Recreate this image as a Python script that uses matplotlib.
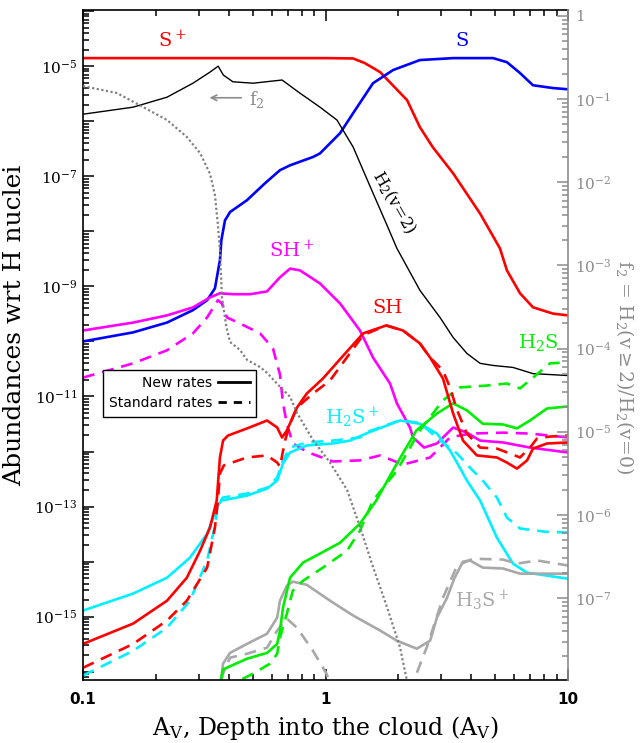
import numpy as np
import matplotlib
matplotlib.use('Agg')
import matplotlib.pyplot as plt
from matplotlib.lines import Line2D
from matplotlib.ticker import LogLocator, FuncFormatter, NullFormatter

plt.rcParams['font.family'] = 'DejaVu Serif'
plt.rcParams['mathtext.fontset'] = 'dejavuserif'

"""
Abundances (wrt H nuclei) vs A_V, read off the figure
"""
# S+
av_sp = [0.1, 0.5, 1.0, 1.30, 1.45, 1.68, 2.17, 2.45, 2.77, 3.36, 4.34, 5.24,
         5.60, 6.34, 7.17, 8.67, 10]
sp = [1.4e-5, 1.4e-5, 1.4e-5, 1.38e-5, 1.14e-5, 7.8e-6, 2.41e-6, 7.8e-7,
      3.37e-7, 1.13e-7, 2.1e-8, 4.9e-9, 1.95e-9, 7.5e-10, 4.17e-10, 3.2e-10,
      2.97e-10]

# S
av_s = [0.1, 0.161, 0.222, 0.284, 0.325, 0.350, 0.367, 0.372, 0.385, 0.404,
        0.474, 0.563, 0.649, 0.714, 0.888, 0.949, 1.148, 1.30, 1.57, 1.90,
        2.45, 3.36, 4.91, 5.60, 6.34, 7.17, 8.67, 10]
s = [1.0e-10, 1.46e-10, 2.2e-10, 3.7e-10, 5.6e-10, 9.2e-10, 3.0e-9, 6.9e-9,
     1.58e-8, 2.24e-8, 3.66e-8, 7.46e-8, 1.29e-7, 1.58e-7, 2.24e-7, 2.6e-7,
     6.05e-7, 1.4e-6, 4.9e-6, 8.5e-6, 1.29e-5, 1.4e-5, 1.4e-5, 1.18e-5,
     7.5e-6, 4.5e-6, 4.0e-6, 3.8e-6]

# H2(v=2)
av_h2 = [0.1, 0.161, 0.222, 0.284, 0.334, 0.361, 0.379, 0.415, 0.502, 0.662,
         0.785, 0.949, 1.115, 1.30, 1.526, 1.793, 1.97, 2.45, 2.97, 3.36,
         3.83, 4.34, 4.91, 5.93, 7.17, 10]
h2v2 = [1.34e-6, 1.8e-6, 2.73e-6, 4.9e-6, 7.8e-6, 1.0e-5, 6.9e-6, 5.2e-6,
        4.9e-6, 5.6e-6, 3.23e-6, 1.8e-6, 1.05e-6, 3.4e-7, 6.6e-8, 1.29e-8,
        4.9e-9, 8.5e-10, 2.7e-10, 1.18e-10, 6.05e-11, 4.0e-11, 3.66e-11,
        3.37e-11, 2.6e-11, 2.4e-11]

# f2 = H2(v>=2)/H2(v=0)  (right axis)
av_f2 = [0.1, 0.138, 0.177, 0.222, 0.268, 0.304, 0.334, 0.350, 0.360, 0.367,
         0.374, 0.390, 0.404, 0.444, 0.475, 0.537, 0.574, 0.649, 0.714, 0.763,
         0.888, 1.044, 1.227, 1.387, 1.57, 1.793, 2.028, 2.17, 2.29]
f2 = [0.143, 0.118, 0.080, 0.056, 0.035, 0.0224, 0.0126, 7.0e-3, 3.06e-3,
      1.53e-3, 4.17e-4, 1.83e-4, 1.2e-4, 9.6e-5, 7.3e-5, 6.0e-5, 5.1e-5,
      3.47e-5, 2.63e-5, 1.68e-5, 7.95e-6, 4.26e-6, 2.0e-6, 7.2e-7, 2.37e-7,
      7.8e-8, 2.57e-8, 1.0e-8, 6e-9]

# SH+
av_shp = [0.1, 0.161, 0.222, 0.284, 0.334, 0.367, 0.415, 0.488, 0.574, 0.649,
          0.714, 0.785, 0.949, 1.148, 1.387, 1.57, 1.845, 1.97, 2.23, 2.295,
          2.55, 2.88, 3.36, 3.83, 4.34, 5.40, 6.97, 10]
shp = [1.58e-10, 2.2e-10, 2.97e-10, 4.15e-10, 6.3e-10, 7.5e-10, 7.2e-10,
       7.2e-10, 8.1e-10, 1.46e-9, 2.1e-9, 1.95e-9, 1.13e-9, 4.9e-10, 1.58e-10,
       5.1e-11, 1.72e-11, 7.5e-12, 2.73e-12, 1.8e-12, 1.18e-12, 1.4e-12,
       2.73e-12, 2.2e-12, 1.58e-12, 1.46e-12, 1.18e-12, 9.6e-13]
av_shp_d = [0.1, 0.161, 0.222, 0.284, 0.325, 0.360, 0.374, 0.392, 0.444,
            0.537, 0.607, 0.649, 0.668, 0.693, 0.733, 0.85, 1.074, 1.387,
            1.68, 2.087, 2.70, 3.26, 3.94, 5.40, 6.97, 10]
shp_d = [2.2e-11, 4.0e-11, 6.9e-11, 1.4e-10, 2.73e-10, 5.6e-10, 4.9e-10,
         2.73e-10, 2.12e-10, 1.4e-10, 7.5e-11, 2.5e-11, 7.5e-12, 3.2e-12,
         1.4e-12, 9.6e-13, 6.6e-13, 6.9e-13, 8.5e-13, 5.8e-13, 7.8e-13,
         1.8e-12, 2.12e-12, 2.2e-12, 2.12e-12, 1.8e-12]

# SH
av_sh = [0.1, 0.161, 0.222, 0.268, 0.304, 0.334, 0.356, 0.367, 0.378, 0.396,
         0.474, 0.574, 0.632, 0.662, 0.693, 0.763, 0.837, 0.976, 1.16, 1.43,
         1.78, 2.087, 2.45, 2.70, 3.05, 3.36, 3.69, 4.21, 5.09, 5.60, 6.16,
         6.78, 7.17, 8.19, 10]
sh = [3.2e-16, 7.5e-16, 1.95e-15, 5.1e-15, 1.58e-14, 4.17e-14, 1.29e-13,
      7.8e-13, 1.58e-12, 1.95e-12, 2.62e-12, 3.66e-12, 2.73e-12, 1.8e-12,
      2.41e-12, 6.3e-12, 1.13e-11, 2.12e-11, 5.0e-11, 1.4e-10, 1.95e-10,
      1.58e-10, 9.2e-11, 5.1e-11, 2.12e-11, 4.9e-12, 1.58e-12, 8.5e-13,
      7.8e-13, 6.3e-13, 4.9e-13, 6.9e-13, 1.13e-12, 1.4e-12, 1.46e-12]
av_sh_d = [0.1, 0.161, 0.222, 0.268, 0.325, 0.350, 0.360, 0.367, 0.381,
           0.474, 0.574, 0.632, 0.649, 0.681, 0.714, 0.763, 0.888, 1.044,
           1.43, 1.78, 2.087, 2.45, 2.70, 3.05, 3.26, 3.49, 3.83, 4.34, 5.09,
           5.77, 6.34, 6.97, 7.45, 8.43, 10]
sh_d = [1.18e-16, 3.2e-16, 8.5e-16, 1.95e-15, 7.8e-15, 4.17e-14, 1.29e-13,
        4.0e-13, 5.6e-13, 7.8e-13, 8.5e-13, 6.3e-13, 5.3e-13, 1.58e-12,
        3.2e-12, 6.3e-12, 1.13e-11, 1.95e-11, 1.3e-10, 1.95e-10, 1.58e-10,
        9.2e-11, 5.1e-11, 2.97e-11, 1.46e-11, 5.6e-12, 2.12e-12, 1.18e-12,
        1.13e-12, 9.2e-13, 7.8e-13, 1.18e-12, 1.72e-12, 1.87e-12, 1.95e-12]

# H2S+
av_h2sp = [0.1, 0.161, 0.222, 0.276, 0.325, 0.350, 0.364, 0.374, 0.474,
           0.574, 0.632, 0.668, 0.714, 0.837, 1.074, 1.262, 1.50, 2.03, 2.45,
           2.88, 3.26, 3.58, 3.83, 4.34, 5.09, 5.93, 6.78, 10]
h2sp = [1.29e-15, 2.63e-15, 5.1e-15, 1.18e-14, 3.2e-14, 7.8e-14, 1.13e-13,
        1.29e-13, 1.58e-13, 2.12e-13, 2.97e-13, 6.05e-13, 9.6e-13, 1.29e-12,
        1.4e-12, 1.58e-12, 2.2e-12, 3.66e-12, 3.2e-12, 2.12e-12, 1.05e-12,
        5.1e-13, 2.97e-13, 1.29e-13, 2.73e-14, 9.2e-15, 6.3e-15, 4.9e-15]
av_h2sp_d = [0.1, 0.161, 0.222, 0.276, 0.325, 0.350, 0.360, 0.378, 0.474,
             0.574, 0.632, 0.668, 0.714, 0.837, 1.074, 1.387, 1.50, 2.03,
             2.45, 2.97, 3.49, 3.94, 4.45, 5.09, 5.60, 6.34, 8.04, 10]
h2sp_d = [8.5e-17, 2.4e-16, 6.3e-16, 1.95e-15, 1.05e-14, 4.5e-14, 1.13e-13,
          1.46e-13, 1.72e-13, 2.2e-13, 3.37e-13, 6.9e-13, 1.18e-12, 1.46e-12,
          1.58e-12, 1.8e-12, 2.3e-12, 3.7e-12, 3.3e-12, 1.58e-12, 9.2e-13,
          5.1e-13, 2.97e-13, 1.46e-13, 6.3e-14, 4.0e-14, 3.5e-14, 3.37e-14]

# H2S
av_h2s = [0.370, 0.378, 0.474, 0.574, 0.632, 0.649, 0.668, 0.714, 0.808,
          0.949, 1.148, 1.387, 1.62, 1.97, 2.37, 2.88, 3.36, 3.83, 4.45, 5.40,
          6.16, 6.97, 8.19, 10]
h2s = [7e-17, 1.1e-16, 1.72e-16, 2.2e-16, 3.2e-16, 5.6e-16, 1.46e-15,
       5.1e-15, 9.6e-15, 1.4e-14, 2.2e-14, 4.9e-14, 1.29e-13, 6.05e-13,
       2.41e-12, 4.9e-12, 7.5e-12, 5.6e-12, 3.2e-12, 3.1e-12, 2.63e-12,
       3.66e-12, 6.05e-12, 6.6e-12]
av_h2s_d = [0.41, 0.423, 0.502, 0.590, 0.632, 0.649, 0.693, 0.733, 0.808,
            0.976, 1.227, 1.387, 1.57, 1.97, 2.45, 3.05, 3.58, 4.63, 5.60,
            6.34, 7.17, 8.43, 10]
h2s_d = [4e-17, 6.3e-17, 9.2e-17, 1.4e-16, 2.12e-16, 4.15e-16, 1.13e-15,
         2.97e-15, 4.5e-15, 7.8e-15, 1.58e-14, 3.66e-14, 1.29e-13, 4.5e-13,
         2.41e-12, 8.5e-12, 1.46e-11, 1.58e-11, 1.72e-11, 1.4e-11, 2.2e-11,
         4.0e-11, 4.15e-11]

# H3S+
av_h3sp = [0.371, 0.378, 0.404, 0.474, 0.574, 0.632, 0.649, 0.693, 0.733,
           0.837, 1.044, 1.30, 1.68, 1.97, 2.38, 2.70, 2.88, 3.17, 3.40, 3.69,
           3.94, 4.45, 5.40, 6.34, 10]
h3sp = [6.9e-17, 1.4e-16, 2.2e-16, 3.2e-16, 4.9e-16, 9.6e-16, 1.95e-15,
        3.66e-15, 4.33e-15, 3.8e-15, 1.95e-15, 1.05e-15, 5.6e-16, 3.66e-16,
        2.62e-16, 3.66e-16, 9.6e-16, 2.2e-15, 5.0e-15, 1.0e-14, 1.05e-14,
        7.8e-15, 7.5e-15, 6.05e-15, 6.05e-15]
av_h3sp_d = [0.372, 0.378, 0.404, 0.474, 0.574, 0.632, 0.693, 0.763, 0.888,
             1.01, 1.1, 2.2, 2.295, 2.63, 3.05, 3.49, 4.06, 5.40, 6.16, 7.45,
             10]
h3sp_d = [6.9e-17, 9.2e-17, 1.8e-16, 2.12e-16, 2.73e-16, 5.6e-16, 9.2e-16,
          6.3e-16, 2.4e-16, 9.2e-17, 3e-17, 3e-17, 6.3e-17, 2.97e-16, 2.2e-15,
          8.5e-15, 1.13e-14, 1.09e-14, 9.2e-15, 1.05e-14, 8.5e-15]

"""
Plot
"""
fig = plt.figure(figsize=(6.43, 7.43), dpi=100)
ax = fig.add_axes([83/643., 63/743., 485/643., 670/743.])
ax2 = ax.twinx()

lw = 1.9
dsh = (4.5, 3)
ax.plot(av_sp, sp, color='#ff0000', lw=lw)
ax.plot(av_s, s, color='#0000ff', lw=lw)
ax.plot(av_h2, h2v2, color='k', lw=1.0)
ax.plot(av_shp, shp, color='#ff00ff', lw=lw)
ax.plot(av_shp_d, shp_d, color='#ff00ff', lw=lw, ls='--', dashes=dsh)
ax.plot(av_h2sp, h2sp, color='#00f0ff', lw=lw)
ax.plot(av_h2sp_d, h2sp_d, color='#00f0ff', lw=lw, ls='--', dashes=dsh)
ax.plot(av_h3sp, h3sp, color='#a8a8a8', lw=lw)
ax.plot(av_h3sp_d, h3sp_d, color='#a8a8a8', lw=lw, ls='--', dashes=dsh)
ax.plot(av_h2s, h2s, color='#00ee00', lw=lw)
ax.plot(av_h2s_d, h2s_d, color='#00ee00', lw=lw, ls='--', dashes=dsh)
ax.plot(av_sh, sh, color='#ff0000', lw=lw)
ax.plot(av_sh_d, sh_d, color='#ff0000', lw=lw, ls='--', dashes=dsh)

ax2.plot(av_f2, f2, color='#808080', lw=1.6, ls=(0, (1, 1.1)))

ax.set_xscale('log')
ax.set_yscale('log')
ax2.set_yscale('log')
ax.set_xlim(0.1, 10)
ax.set_ylim(10**-16.15, 10**-3.98)
ax2.set_ylim(10**-7.985, 10**0.07)

# left axis
ax.yaxis.set_major_locator(LogLocator(base=10, numticks=30))
ax.yaxis.set_minor_locator(LogLocator(base=10, subs=np.arange(2, 10), numticks=30))
ax.yaxis.set_major_formatter(FuncFormatter(
    lambda v, pos: '$10^{%d}$' % round(np.log10(v)) if round(np.log10(v)) % 2 else ''))
ax.yaxis.set_minor_formatter(NullFormatter())

ax.set_xticks([0.1, 1, 10])
ax.set_xticklabels(['0.1', '1', '10'], fontweight='bold', family='DejaVu Sans')
ax.xaxis.set_minor_locator(LogLocator(base=10, subs=np.arange(2, 10), numticks=30))
ax.xaxis.set_minor_formatter(NullFormatter())

ax.tick_params(which='both', direction='in', top=True, right=False,
               width=1.1, labelsize=11)
ax.tick_params(which='major', length=8)
ax.tick_params(which='minor', length=4)
ax.tick_params(axis='x', pad=9)
ax.tick_params(axis='y', pad=4)
for sp_ in ['left', 'top', 'bottom']:
    ax.spines[sp_].set_linewidth(1.2)
ax.spines['right'].set_visible(False)

# right axis
gray = '#8c8c8c'
ax2.yaxis.set_major_locator(LogLocator(base=10, numticks=30))
ax2.yaxis.set_minor_locator(LogLocator(base=10, subs=np.arange(2, 10), numticks=30))
ax2.yaxis.set_major_formatter(FuncFormatter(
    lambda v, pos: '1' if round(np.log10(v)) == 0 else '$10^{%d}$' % round(np.log10(v))))
ax2.yaxis.set_minor_formatter(NullFormatter())
ax2.tick_params(which='both', direction='in', color=gray, labelcolor=gray,
                width=1.1, labelsize=11, pad=5)
ax2.tick_params(which='major', length=8)
ax2.tick_params(which='minor', length=4)
ax2.spines['right'].set_color(gray)
ax2.spines['right'].set_linewidth(1.2)
for sp_ in ['left', 'top', 'bottom']:
    ax2.spines[sp_].set_visible(False)

ax.set_xlabel(r'A$_\mathrm{V}$, Depth into the cloud (A$_\mathrm{V}$)', fontsize=17)
ax.set_ylabel('Abundances wrt H nuclei', fontsize=18)
ax.yaxis.set_label_coords(-0.118, 0.53)
ax.xaxis.set_label_coords(0.5, -0.05)
ax2.set_ylabel(r'f$_2$ = H$_2$(v$\geq$2)/H$_2$(v=0)', fontsize=13.5,
               color=gray, rotation=270, va='center')
ax2.yaxis.set_label_coords(1.118, 0.467)

# species labels
kw = dict(transform=ax.transAxes, ha='center', va='center', fontsize=14)
ax.text(0.1835, 0.955, 'S$^+$', color='#ff0000', **kw)
ax.text(0.781, 0.954, 'S', color='#0000ff', **kw)
ax.text(0.429, 0.642, 'SH$^+$', color='#ff00ff', **kw)
ax.text(0.627, 0.555, 'SH', color='#ff0000', **kw)
ax.text(0.938, 0.504, 'H$_2$S', color='#00ee00', **kw)
ax.text(0.555, 0.391, 'H$_2$S$^+$', color='#00f0ff', **kw)
ax.text(0.823, 0.119, 'H$_3$S$^+$', color='#a8a8a8', **kw)
ax.text(0.641, 0.712, 'H$_2$(v=2)', color='k', rotation=-60,
        transform=ax.transAxes, ha='center', va='center', fontsize=12)
ax.text(0.342, 0.866, 'f$_2$', color=gray, transform=ax.transAxes,
        ha='left', va='center', fontsize=13)
ax.annotate('', xy=(0.255, 0.869), xytext=(0.332, 0.869),
            xycoords='axes fraction', textcoords='axes fraction',
            arrowprops=dict(arrowstyle='->', color=gray, lw=1.2))

handles = [Line2D([], [], color='k', lw=2),
           Line2D([], [], color='k', lw=2, ls='--', dashes=(3, 2.5))]
leg = ax2.legend(handles, ['New rates', 'Standard rates'], loc='upper left',
                 bbox_to_anchor=(0.041, 0.463), markerfirst=False,
                 prop={'family': 'DejaVu Sans', 'size': 10}, fancybox=False,
                 framealpha=1, edgecolor='k', handlelength=2.3,
                 borderpad=0.45, labelspacing=0.45, handletextpad=0.4,
                 borderaxespad=0)
leg.get_frame().set_linewidth(1.0)

fig.savefig('out.png', dpi=100)
